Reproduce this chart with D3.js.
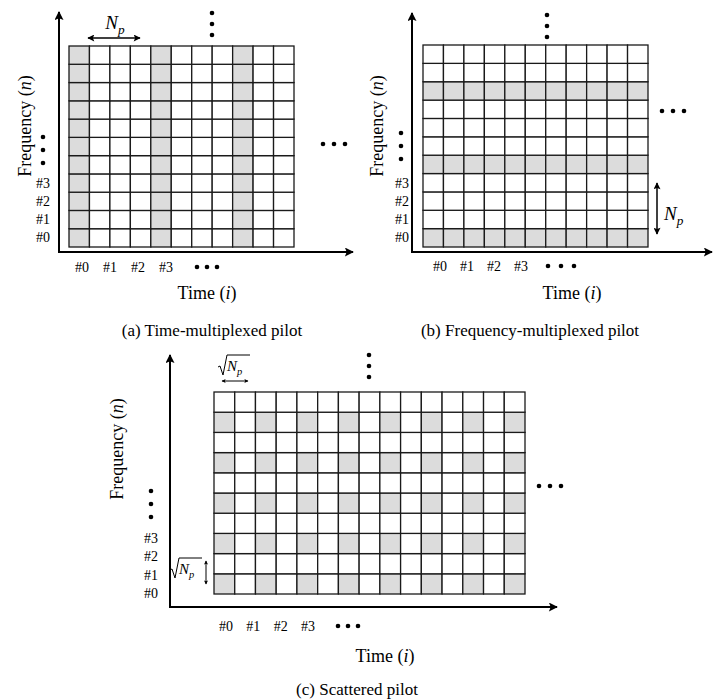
<!DOCTYPE html>
<html>
<head>
<meta charset="utf-8">
<script src="https://cdn.jsdelivr.net/npm/d3@7"></script>
<style>
  body { margin: 0; background: #fff; }
  svg { display: block; font-family: "Liberation Serif", "Times New Roman", serif; }
</style>
</head>
<body>
<svg id="chart" width="717" height="699"></svg>
<script>
// Tick labels shared by the three grids
const TIME_TICKS = ['#0', '#1', '#2', '#3'];
const FREQ_TICKS = ['#0', '#1', '#2', '#3'];

// Grid sizes as [rows, cols]
const GRID_A = [11, 11];
const GRID_B = [11, 11];
const GRID_C = [10, 15];

// Pilot positions (row 0 = lowest subcarrier, col 0 = first symbol)
const PILOT_COLS_A = [0, 4, 8];
const PILOT_ROWS_B = [0, 4, 8];
const PILOT_ROWS_C = [0, 2, 4, 6, 8];
const PILOT_COLS_C = [0, 2, 4, 6, 8, 10, 12, 14];

const CAPTIONS = ['(a) Time-multiplexed pilot', '(b) Frequency-multiplexed pilot', '(c) Scattered pilot'];

const PILOT_FILL = '#dcdcdc';
const GRID_STROKE = '#1a1a1a';

// Layout of each panel (pixel boxes, not data)
const PANELS = [
    {
        grid: GRID_A, isPilot: (r, c) => PILOT_COLS_A.includes(c),
        box: [69, 46, 294, 247], origin: [59, 252], tipY: 12, tipX: 353,
        timeTicks: [82, 166, 267], freqTicks: [43, 237, 183],
        topDots: [212, 13], rightDots: [323, 144], leftDots: [43, 137], timeDots: [197, 267],
        freqLabel: [25, 126], timeLabel: [207, 293], caption: [212, 330]
    },
    {
        grid: GRID_B, isPilot: (r, c) => PILOT_ROWS_B.includes(r),
        box: [423, 45, 648, 247], origin: [412, 252], tipY: 13, tipX: 712,
        timeTicks: [440, 521, 266], freqTicks: [402, 237, 183],
        topDots: [547, 15], rightDots: [662, 111], leftDots: [401, 133], timeDots: [548, 266],
        freqLabel: [377, 126], timeLabel: [572, 293], caption: [530, 330]
    },
    {
        grid: GRID_C, isPilot: (r, c) => PILOT_ROWS_C.includes(r) && PILOT_COLS_C.includes(c),
        box: [214, 392, 525, 594], origin: [170, 607], tipY: 355, tipX: 557,
        timeTicks: [226, 308, 626], freqTicks: [151, 593, 538],
        topDots: [369, 355], rightDots: [539, 486], leftDots: [151, 491], timeDots: [338, 626],
        freqLabel: [117, 449], timeLabel: [385, 656], caption: [357, 689]
    }
];

const svg = d3.select('#chart');
const defs = svg.append('defs');

// Arrow heads of three sizes
function addMarker(id, len, wid) {
    defs.append('marker')
        .attr('id', id)
        .attr('viewBox', '0 0 10 10')
        .attr('refX', 9).attr('refY', 5)
        .attr('markerUnits', 'userSpaceOnUse')
        .attr('markerWidth', len).attr('markerHeight', wid)
        .attr('orient', 'auto-start-reverse')
        .append('path')
        .attr('d', 'M0,0 L10,5 L0,10 L2,5 z')
        .attr('fill', '#000');
}
addMarker('axis-head', 13, 9);
addMarker('np-head', 9, 7);
addMarker('small-head', 5, 4);

function dots(g, cx, cy, step, vertical) {
    g.selectAll(null)
        .data([0, 1, 2])
        .enter().append('circle')
        .attr('cx', d => vertical ? cx : cx + d * step)
        .attr('cy', d => vertical ? cy + d * step : cy)
        .attr('r', 2.3)
        .attr('fill', '#000');
}

function italicLabel(sel, before, it, after) {
    sel.append('tspan').text(before);
    sel.append('tspan').attr('font-style', 'italic').text(it);
    sel.append('tspan').text(after);
}

PANELS.forEach((p, idx) => {
    const g = svg.append('g').attr('class', 'panel');
    const [rows, cols] = p.grid;
    const [x0, y0, x1, y1] = p.box;

    const x = d3.scaleBand().domain(d3.range(cols)).range([x0, x1]);
    const y = d3.scaleBand().domain(d3.range(rows)).range([y1, y0]);

    // Resource grid cells
    const cells = d3.cross(d3.range(rows), d3.range(cols)).map(([r, c]) => ({ r, c, pilot: p.isPilot(r, c) }));
    g.append('g')
        .selectAll('rect')
        .data(cells)
        .enter().append('rect')
        .attr('x', d => x(d.c))
        .attr('y', d => y(d.r))
        .attr('width', x.bandwidth())
        .attr('height', y.bandwidth())
        .attr('fill', d => d.pilot ? PILOT_FILL : '#fff')
        .attr('stroke', GRID_STROKE)
        .attr('stroke-width', 1.3);

    // Frequency and time axes
    const [ox, oy] = p.origin;
    g.append('line')
        .attr('x1', ox).attr('y1', oy + 1)
        .attr('x2', ox).attr('y2', p.tipY)
        .attr('stroke', '#000').attr('stroke-width', 2)
        .attr('marker-end', 'url(#axis-head)');
    g.append('line')
        .attr('x1', ox - 1).attr('y1', oy)
        .attr('x2', p.tipX).attr('y2', oy)
        .attr('stroke', '#000').attr('stroke-width', 2)
        .attr('marker-end', 'url(#axis-head)');

    // Tick labels
    const tx = d3.scalePoint().domain(TIME_TICKS).range([p.timeTicks[0], p.timeTicks[1]]);
    g.selectAll('.time-tick')
        .data(TIME_TICKS)
        .enter().append('text')
        .attr('class', 'time-tick')
        .attr('x', d => tx(d))
        .attr('y', p.timeTicks[2])
        .attr('dy', '0.35em')
        .attr('text-anchor', 'middle')
        .attr('font-size', '14px')
        .text(d => d);

    const fy = d3.scalePoint().domain(FREQ_TICKS).range([p.freqTicks[1], p.freqTicks[2]]);
    g.selectAll('.freq-tick')
        .data(FREQ_TICKS)
        .enter().append('text')
        .attr('class', 'freq-tick')
        .attr('x', p.freqTicks[0])
        .attr('y', d => fy(d))
        .attr('dy', '0.35em')
        .attr('text-anchor', 'middle')
        .attr('font-size', '14px')
        .text(d => d);

    // Ellipses
    dots(g, p.topDots[0], p.topDots[1], 11, true);
    dots(g, p.rightDots[0], p.rightDots[1], 11, false);
    dots(g, p.leftDots[0], p.leftDots[1], 13, true);
    dots(g, p.timeDots[0], p.timeDots[1], idx === 1 ? 13 : 10, false);

    // Axis titles and caption
    g.append('text')
        .attr('transform', `translate(${p.freqLabel[0]},${p.freqLabel[1]}) rotate(-90)`)
        .attr('text-anchor', 'middle')
        .attr('dy', '0.35em')
        .attr('font-size', '18px')
        .call(italicLabel, 'Frequency (', 'n', ')');
    g.append('text')
        .attr('x', p.timeLabel[0]).attr('y', p.timeLabel[1])
        .attr('text-anchor', 'middle')
        .attr('dy', '0.35em')
        .attr('font-size', '18px')
        .call(italicLabel, 'Time (', 'i', ')');
    g.append('text')
        .attr('x', p.caption[0]).attr('y', p.caption[1])
        .attr('text-anchor', 'middle')
        .attr('dy', '0.35em')
        .attr('font-size', '17px')
        .text(CAPTIONS[idx]);
});

// N_p label: italic N with subscript p
function npLabel(x, y, size, anchor) {
    const t = svg.append('text')
        .attr('x', x).attr('y', y)
        .attr('text-anchor', anchor)
        .attr('font-style', 'italic')
        .attr('font-size', size + 'px');
    t.append('tspan').text('N');
    t.append('tspan').attr('dy', size * 0.25).attr('font-size', (size * 0.7) + 'px').text('p');
    return t;
}

// (a) spacing of pilot symbols
svg.append('line')
    .attr('x1', 88).attr('y1', 38).attr('x2', 140).attr('y2', 38)
    .attr('stroke', '#000').attr('stroke-width', 1.5)
    .attr('marker-start', 'url(#np-head)').attr('marker-end', 'url(#np-head)');
npLabel(115, 29, 19, 'middle');

// (b) spacing of pilot subcarriers
svg.append('line')
    .attr('x1', 657).attr('y1', 183).attr('x2', 657).attr('y2', 234)
    .attr('stroke', '#000').attr('stroke-width', 1.5)
    .attr('marker-start', 'url(#np-head)').attr('marker-end', 'url(#np-head)');
npLabel(664, 220, 19, 'start');

// (c) square-root spacing in both directions
function sqrtNp(x, yTop, yBottom, overEnd) {
    svg.append('path')
        .attr('d', `M${x},${yBottom - 8} L${x + 2},${yBottom - 9} L${x + 5},${yBottom} L${x + 9},${yTop} L${overEnd},${yTop}`)
        .attr('fill', 'none').attr('stroke', '#000').attr('stroke-width', 1);
    npLabel(x + 9, yBottom - 4, 15, 'start');
}
sqrtNp(218, 355, 375, 250);
svg.append('line')
    .attr('x1', 222).attr('y1', 381).attr('x2', 248).attr('y2', 381)
    .attr('stroke', '#000').attr('stroke-width', 1)
    .attr('marker-start', 'url(#small-head)').attr('marker-end', 'url(#small-head)');

sqrtNp(170, 558, 578, 202);
svg.append('line')
    .attr('x1', 206).attr('y1', 561).attr('x2', 206).attr('y2', 584)
    .attr('stroke', '#000').attr('stroke-width', 1)
    .attr('marker-start', 'url(#small-head)').attr('marker-end', 'url(#small-head)');
</script>
</body>
</html>
